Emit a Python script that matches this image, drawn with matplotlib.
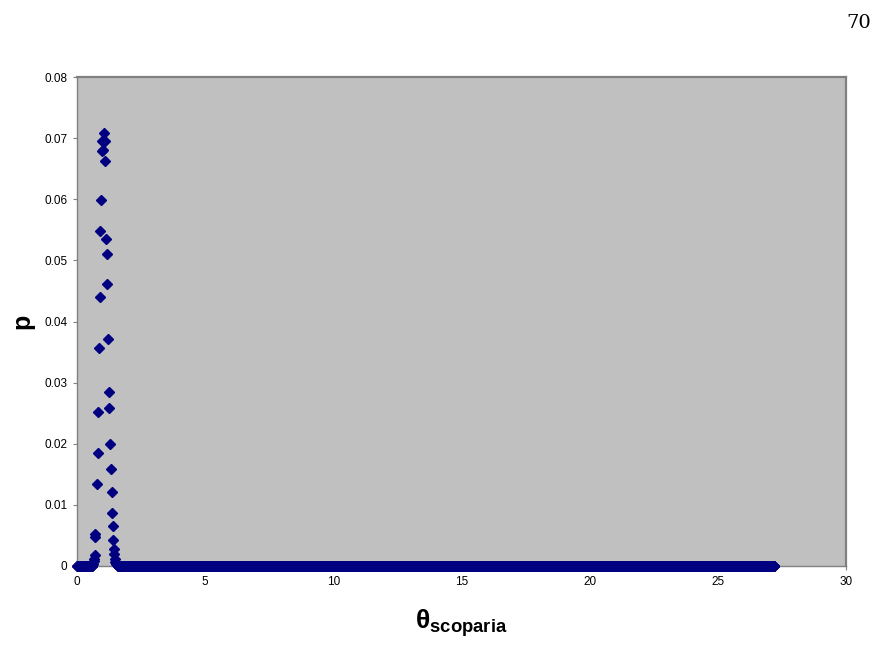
import numpy as np
import matplotlib
matplotlib.use('Agg')
import matplotlib.pyplot as plt

# --- Data (theta, p) ---
# rising side of the peak
theta_up = [0.60, 0.63, 0.65, 0.67, 0.69, 0.69, 0.71, 0.77, 0.81, 0.83, 0.85,
            0.88, 0.90, 0.94, 0.96, 0.99, 1.05]
p_up = [0.0002, 0.0004, 0.0008, 0.0012, 0.0018, 0.0047, 0.0053, 0.0134, 0.0185,
        0.0252, 0.0357, 0.0440, 0.0548, 0.0599, 0.0679, 0.0696, 0.0709]

# falling side of the peak
theta_down = [1.03, 1.09, 1.10, 1.13, 1.16, 1.18, 1.21, 1.24, 1.26, 1.29, 1.33,
              1.35, 1.38, 1.39, 1.42, 1.44, 1.45, 1.47, 1.49, 1.52, 1.55, 1.58]
p_down = [0.0680, 0.0696, 0.0662, 0.0535, 0.0511, 0.0462, 0.0371, 0.0284,
          0.0259, 0.0200, 0.0159, 0.0121, 0.0087, 0.0065, 0.0042, 0.0027,
          0.0020, 0.0012, 0.0007, 0.0003, 0.0001, 0.0000]

# p is zero on the rest of the theta grid (grid step 0.01, up to 27.2)
GRID_STEP = 0.01
theta_zero_left = np.arange(0.0, 0.60, GRID_STEP)
theta_zero_right = np.arange(1.60, 27.2 + GRID_STEP / 2, GRID_STEP)

x_ticks = [0, 5, 10, 15, 20, 25, 30]
y_ticks = [0, 0.01, 0.02, 0.03, 0.04, 0.05, 0.06, 0.07, 0.08]

theta = np.concatenate([theta_zero_left, theta_up, theta_down, theta_zero_right])
p = np.concatenate([np.zeros(len(theta_zero_left)), p_up, p_down,
                    np.zeros(len(theta_zero_right))])

plt.rcParams['font.family'] = ['Liberation Sans', 'DejaVu Sans']
plt.rcParams['mathtext.fontset'] = 'custom'
plt.rcParams['mathtext.bf'] = 'Liberation Sans:bold'
plt.rcParams['mathtext.rm'] = 'Liberation Sans'
plt.rcParams['mathtext.it'] = 'Liberation Sans:italic'

fig = plt.figure(figsize=(8.75, 6.45), dpi=100)
ax = fig.add_axes([0.088, 0.1225, 0.879, 0.758])
ax.set_facecolor('#C0C0C0')

ax.plot(theta, p, linestyle='none', marker='D', markersize=4.6,
        color='#000080', markeredgecolor='#000080', clip_on=False, zorder=3)

ax.set_xlim(0, 30)
ax.set_ylim(0, 0.08)
ax.set_xticks(x_ticks)
ax.set_yticks(y_ticks)
ax.set_xticklabels([str(t) for t in x_ticks])
ax.set_yticklabels(['0'] + [f'{t:.2f}' for t in y_ticks[1:]])
ax.tick_params(axis='both', labelsize=8.5, length=3, width=0.8,
               color='#808080', pad=4)

for side in ['left', 'bottom']:
    ax.spines[side].set_color('#808080')
    ax.spines[side].set_linewidth(1.0)
for side in ['top', 'right']:
    ax.spines[side].set_color('#808080')
    ax.spines[side].set_linewidth(1.6)

ax.set_ylabel('p', fontsize=18, fontweight='bold', labelpad=7)
ax.set_xlabel(r'$\mathbf{\theta_{scoparia}}$', fontsize=19, labelpad=14)

fig.text(0.995, 0.965, '70', fontsize=14, family='DejaVu Serif',
         ha='right', va='center')

fig.savefig('out.png', dpi=100)
